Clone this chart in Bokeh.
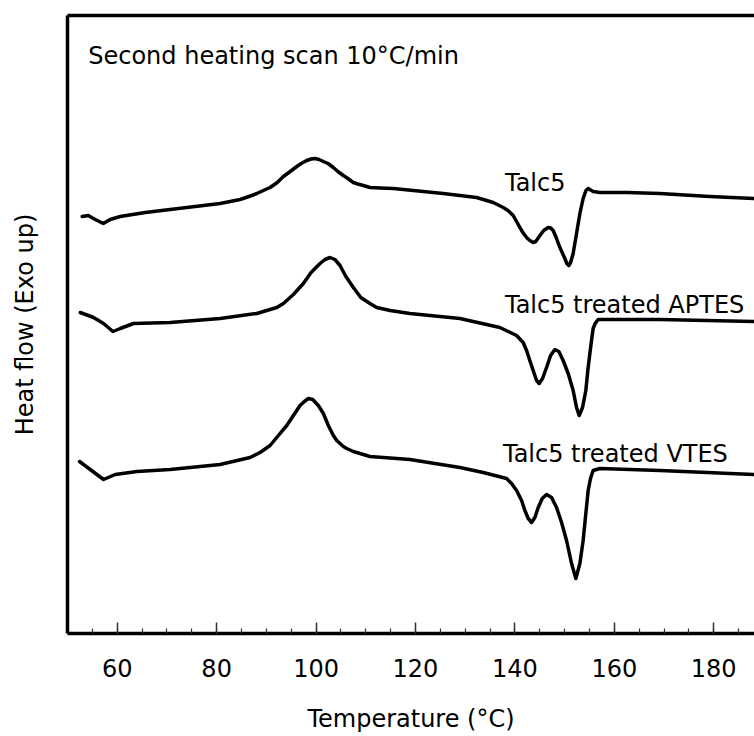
from bokeh.plotting import figure
from bokeh.models import Range1d, LinearAxis, FixedTicker, SingleIntervalTicker, Label
from bokeh.embed import file_html
from bokeh.resources import INLINE

# ---- data (heat flow in arbitrary units) ----
talc5_T = [52.96, 54.17, 55.58, 57.19, 58.59, 60.60, 65.63, 70.65, 75.68, 80.70, 84.72,
           86.50, 88.08, 89.40, 90.75, 92.20, 93.43, 94.80, 96.12, 97.00, 98.13, 99.00, 99.80,
           100.60, 101.47, 102.40, 103.48, 104.40, 105.49, 106.40, 107.50, 108.40, 109.51,
           110.85, 112.90, 115.54, 125.59, 132.30, 135.64, 137.65, 138.60, 139.66, 141.01,
           141.60, 142.35, 143.00, 143.68, 144.20, 145.03, 145.80, 146.69, 147.20, 147.70,
           148.30, 149.05, 150.05, 150.45, 150.85, 151.20, 151.72, 152.40, 153.07, 153.73,
           154.30, 154.74, 155.74, 157.09, 162.45, 169.15, 179.20, 188.04]
talc5_HF = [4.17, 4.18, 4.14, 4.10, 4.14, 4.17, 4.21, 4.24, 4.27, 4.30, 4.34,
            4.37, 4.40, 4.43, 4.46, 4.51, 4.57, 4.62, 4.67, 4.70, 4.73, 4.745, 4.75,
            4.74, 4.72, 4.70, 4.66, 4.62, 4.58, 4.55, 4.51, 4.495, 4.48,
            4.46, 4.455, 4.45, 4.40, 4.36, 4.31, 4.26, 4.23, 4.18, 4.06,
            4.01, 3.96, 3.93, 3.91, 3.92, 3.98, 4.03, 4.06, 4.055, 4.03,
            3.96, 3.86, 3.75, 3.70, 3.68, 3.71, 3.80, 4.00, 4.20, 4.35,
            4.43, 4.45, 4.42, 4.41, 4.41, 4.40, 4.37, 4.35]

aptes_T = [52.56, 55.24, 57.25, 59.14, 60.60, 63.28, 70.65, 80.70, 88.08, 90.75, 92.10,
           93.43, 95.44, 97.45, 99.00, 100.80, 101.80, 102.81, 103.80, 104.82, 106.00,
           107.50, 109.00, 110.85, 112.20, 114.90, 118.89, 128.94, 136.98, 140.34, 141.66,
           142.35, 143.00, 143.68, 144.36, 144.89, 145.56, 146.37, 147.18, 148.04, 148.84,
           149.71, 150.72, 151.72, 152.40, 152.93, 153.61, 154.27, 154.67, 155.08, 155.41,
           155.74, 156.15, 156.75, 162.45, 169.15, 188.04]
aptes_HF = [3.21, 3.16, 3.10, 3.02, 3.05, 3.10, 3.11, 3.15, 3.20, 3.24, 3.26,
            3.30, 3.39, 3.50, 3.61, 3.70, 3.74, 3.76, 3.74, 3.68, 3.57,
            3.46, 3.36, 3.30, 3.26, 3.23, 3.20, 3.15, 3.06, 2.98, 2.91,
            2.83, 2.73, 2.63, 2.53, 2.50, 2.55, 2.66, 2.78, 2.84, 2.82,
            2.73, 2.60, 2.43, 2.26, 2.18, 2.26, 2.43, 2.63, 2.80, 2.93,
            3.05, 3.10, 3.14, 3.14, 3.14, 3.12]

vtes_T = [52.42, 54.57, 57.25, 59.60, 63.96, 70.65, 80.70, 86.73, 88.74, 90.75, 92.42,
          94.11, 95.44, 96.78, 97.65, 98.45, 99.33, 100.46, 101.47, 102.47, 103.48, 104.16,
          104.82, 105.50, 106.17, 107.50, 108.84, 110.85, 118.89, 128.94, 133.63, 138.33,
          139.33, 140.34, 141.35, 142.01, 142.68, 143.36, 144.02, 144.69, 145.50, 146.37,
          147.38, 148.38, 149.39, 150.39, 151.40, 152.26, 153.07, 153.73, 154.27, 154.74,
          155.21, 155.74, 157.09, 169.15, 188.04]
vtes_HF = [1.72, 1.64, 1.54, 1.59, 1.62, 1.64, 1.69, 1.76, 1.81, 1.88, 1.98,
           2.08, 2.18, 2.28, 2.32, 2.35, 2.34, 2.28, 2.20, 2.08, 1.98, 1.93,
           1.90, 1.87, 1.85, 1.82, 1.80, 1.77, 1.74, 1.66, 1.61, 1.55,
           1.50, 1.43, 1.33, 1.23, 1.15, 1.11, 1.16, 1.26, 1.35, 1.39,
           1.36, 1.26, 1.11, 0.93, 0.70, 0.55, 0.70, 0.93, 1.20, 1.43,
           1.55, 1.63, 1.65, 1.63, 1.59]

series_names = ["Talc5", "Talc5 treated APTES", "Talc5 treated VTES"]
x_ticks = [60, 80, 100, 120, 140, 160, 180]

FONT = "DejaVu Sans"

p = figure(width=754, height=736, output_backend="svg", toolbar_location=None,
           x_range=Range1d(50, 188.2), y_range=Range1d(0, 6.18),
           min_border_left=67, min_border_right=0, min_border_top=15, min_border_bottom=103,
           x_axis_location=None, y_axis_location=None)
p.outline_line_color = None
p.grid.visible = False
p.background_fill_color = "white"
p.border_fill_color = "white"

# bottom axis
xa = LinearAxis(ticker=SingleIntervalTicker(interval=20, num_minor_ticks=4))
xa.axis_line_width = 3.5
xa.axis_line_color = "black"
xa.major_tick_in = 11
xa.major_tick_out = 0
xa.minor_tick_in = 5
xa.minor_tick_out = 0
xa.major_tick_line_color = "#333333"
xa.minor_tick_line_color = "#333333"
xa.major_tick_line_width = 1.5
xa.minor_tick_line_width = 1.2
xa.major_label_text_font = FONT
xa.major_label_text_font_size = "24px"
xa.major_label_text_color = "black"
xa.major_label_standoff = 25
xa.axis_label = "Temperature (°C)"
xa.axis_label_text_font = FONT
xa.axis_label_text_font_size = "24px"
xa.axis_label_text_font_style = "normal"
xa.axis_label_text_color = "black"
xa.axis_label_standoff = 25
p.add_layout(xa, "below")

# left axis (no ticks)
ya = LinearAxis(ticker=FixedTicker(ticks=[]))
ya.axis_line_width = 3.5
ya.axis_line_color = "black"
ya.major_tick_line_color = None
ya.minor_tick_line_color = None
ya.major_label_standoff = 0
ya.axis_label = "Heat flow (Exo up)"
ya.axis_label_text_font = FONT
ya.axis_label_text_font_size = "24px"
ya.axis_label_text_font_style = "normal"
ya.axis_label_text_color = "black"
ya.axis_label_standoff = 29
p.add_layout(ya, "left")

# top frame line
ta = LinearAxis(ticker=FixedTicker(ticks=[]))
ta.axis_line_width = 3.5
ta.axis_line_color = "black"
ta.major_tick_line_color = None
ta.minor_tick_line_color = None
ta.major_label_text_font_size = "0px"
p.add_layout(ta, "above")

for T, HF in [(talc5_T, talc5_HF), (aptes_T, aptes_HF), (vtes_T, vtes_HF)]:
    p.line(T, HF, line_color="black", line_width=3.5, line_join="round", line_cap="round")

p.add_layout(Label(x=54.17, y=5.78, text="Second heating scan 10°C/min",
                   text_font=FONT, text_font_size="24px", text_color="black",
                   text_baseline="middle", text_align="left"))

label_pos = [(138.0, 4.51), (138.0, 3.29), (137.6, 1.80)]
for name, (lx, ly) in zip(series_names, label_pos):
    p.add_layout(Label(x=lx, y=ly, text=name, text_font=FONT, text_font_size="24px",
                       text_color="black", text_baseline="middle", text_align="left"))

open("out.html", "w").write(file_html(p, INLINE))
